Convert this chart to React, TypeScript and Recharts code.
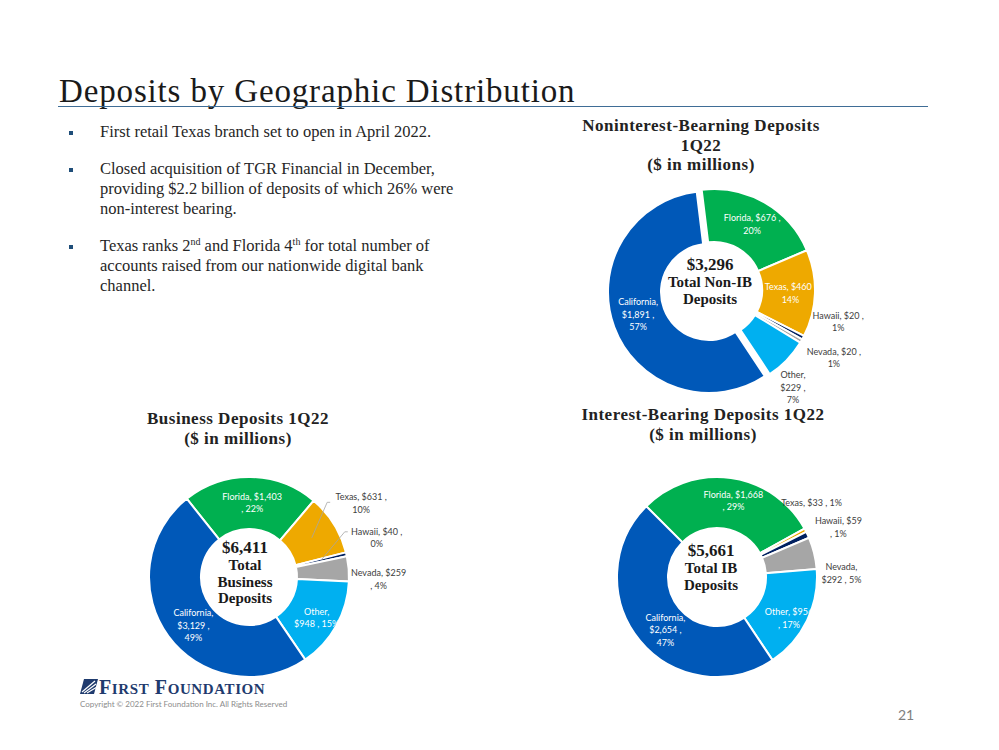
import React from 'react';
import { PieChart, Pie, Cell } from 'recharts';

// slice order is clockwise starting from the Florida slice
const regions = ['Florida', 'Texas', 'Hawaii', 'Nevada', 'Other', 'California'];
const regionColors = ['#00B050', '#EEA900', '#002060', '#A6A6A6', '#00B0F0', '#0058B8'];

const nonIbValues = [676, 460, 20, 20, 229, 1891];
const nonIbPct = ['20%', '14%', '1%', '1%', '7%', '57%'];

const businessValues = [1403, 631, 40, 259, 948, 3129];
const businessPct = ['22%', '10%', '0%', '4%', '15%', '49%'];

const ibValues = [1668, 33, 59, 292, 956, 2654];
const ibPct = ['29%', '1%', '1%', '5%', '17%', '47%'];

const nonIbCenter = ['$3,296', 'Total Non-IB', 'Deposits'];
const businessCenter = ['$6,411', 'Total', 'Business', 'Deposits'];
const ibCenter = ['$5,661', 'Total IB', 'Deposits'];

const bullets = [
  ['First retail Texas branch set to open in April 2022.'],
  [
    'Closed acquisition of TGR Financial in December,',
    'providing $2.2 billion of deposits of which 26% were',
    'non-interest bearing.',
  ],
];

type LabelCfg = {
  out?: boolean;
  nudge: [number, number];
  breaks: number[];
  leader?: [number, number];
};

// label placement (Excel "best fit" look), one entry per region
const nonIbLabels: LabelCfg[] = [
  { nudge: [1, -2], breaks: [2] },
  { nudge: [2, 0], breaks: [2] },
  { out: true, nudge: [14, -28], breaks: [2] },
  { out: true, nudge: [12, 4], breaks: [2] },
  { out: true, nudge: [-11, 10], breaks: [0, 2] },
  { nudge: [-6, -2], breaks: [0, 2] },
];
const businessLabels: LabelCfg[] = [
  { nudge: [2, -1], breaks: [1] },
  { out: true, nudge: [7, -9], breaks: [2], leader: [-31, 0] },
  { out: true, nudge: [7, -12], breaks: [2], leader: [-29, -5] },
  { out: true, nudge: [6, 12], breaks: [1] },
  { nudge: [3, 4], breaks: [0] },
  { nudge: [4, 4], breaks: [0, 2] },
];
const ibLabels: LabelCfg[] = [
  { nudge: [6, -3], breaks: [1] },
  { out: true, nudge: [-15, -17], breaks: [] },
  { out: true, nudge: [9, 2], breaks: [1] },
  { out: true, nudge: [4, 25], breaks: [0] },
  { nudge: [5, 8], breaks: [1] },
  { nudge: [6, 5], breaks: [0, 2] },
];

const RAD = Math.PI / 180;
const labelFont = 'Lato, "Open Sans", sans-serif';
const serif = '"Liberation Serif", "Times New Roman", serif';

const fmt = (v: number) => '$' + v.toLocaleString('en-US');

const makeData = (values: number[], pct: string[]) =>
  regions.map((name, i) => ({ name, value: values[i], pct: pct[i] }));

const makeLabel = (cfgs: LabelCfg[]) => (props: any) => {
  const { cx, cy, midAngle, innerRadius, outerRadius, index, payload } = props;
  const cfg = cfgs[index];
  const r = cfg.out ? outerRadius + 24 : (innerRadius + outerRadius) / 2;
  const ax = cx + r * Math.cos(-midAngle * RAD) + cfg.nudge[0];
  const ay = cy + r * Math.sin(-midAngle * RAD) + cfg.nudge[1];
  const name = payload?.name ?? props.name;
  const value = payload?.value ?? props.value;
  const pct = payload?.pct;
  const tokens = [name + ',', fmt(value), ',', pct];
  const lines: string[] = [];
  let cur: string[] = [];
  tokens.forEach((t, i) => {
    cur.push(t);
    if (cfg.breaks.includes(i)) {
      lines.push(cur.join(' '));
      cur = [];
    }
  });
  if (cur.length) lines.push(cur.join(' '));
  const lh = 12.5;
  const y0 = ay - ((lines.length - 1) * lh) / 2;
  const fill = cfg.out ? '#404040' : '#ffffff';
  let leader = null;
  if (cfg.leader) {
    const rm = (innerRadius + outerRadius) / 2;
    const sx = cx + rm * Math.cos(-midAngle * RAD);
    const sy = cy + rm * Math.sin(-midAngle * RAD);
    const lx = ax + cfg.leader[0];
    const ly = ay + cfg.leader[1];
    leader = (
      <polyline
        points={`${lx},${ly} ${lx - 3},${ly} ${sx},${sy}`}
        fill="none"
        stroke="#A6A6A6"
        strokeWidth={0.8}
      />
    );
  }
  return (
    <g key={`lbl-${index}`}>
      {leader}
      <text
        textAnchor="middle"
        dominantBaseline="central"
        fill={fill}
        fontFamily={labelFont}
        fontSize={9}
      >
        {lines.map((l, i) => (
          <tspan key={i} x={ax} y={y0 + i * lh}>
            {l}
          </tspan>
        ))}
      </text>
    </g>
  );
};

const CenterText = ({ x, y, lines }: { x: number; y: number; lines: string[] }) => (
  <div
    style={{
      position: 'absolute',
      left: x - 60,
      top: y,
      width: 120,
      textAlign: 'center',
      fontFamily: serif,
      fontWeight: 'bold',
      color: '#1a1a1a',
      lineHeight: '16.5px',
      fontSize: 15,
    }}
  >
    {lines.map((l, i) => (
      <div key={i} style={i === 0 ? { fontSize: 17, marginBottom: 0.5 } : undefined}>
        {l}
      </div>
    ))}
  </div>
);

const ChartTitle = ({ x, y, lines }: { x: number; y: number; lines: string[] }) => (
  <div
    style={{
      position: 'absolute',
      left: x - 150,
      top: y,
      width: 300,
      textAlign: 'center',
      fontFamily: serif,
      fontWeight: 'bold',
      fontSize: 17,
      letterSpacing: 0.5,
      lineHeight: '19.5px',
      color: '#222',
    }}
  >
    {lines.map((l, i) => (
      <div key={i}>{l}</div>
    ))}
  </div>
);

const App = () => {
  const nonIb = makeData(nonIbValues, nonIbPct);
  const business = makeData(businessValues, businessPct);
  const ib = makeData(ibValues, ibPct);

  return (
    <div
      style={{
        position: 'absolute',
        left: 0,
        top: 0,
        width: 999,
        height: 750,
        background: '#fff',
        overflow: 'hidden',
      }}
    >
      <PieChart width={999} height={750} style={{ position: 'absolute', left: 0, top: 0 }}>
        <Pie
          data={nonIb}
          dataKey="value"
          nameKey="name"
          cx={709}
          cy={285}
          innerRadius={48}
          outerRadius={101}
          startAngle={97}
          endAngle={-263}
          stroke="#fff"
          strokeWidth={2}
          label={makeLabel(nonIbLabels)}
          labelLine={false}
          isAnimationActive={false}
        >
          {nonIb.map((d, i) => (
            <Cell
              key={d.name}
              fill={regionColors[i]}
              transform={d.name === 'California' ? 'translate(-5,2)' : undefined}
            />
          ))}
        </Pie>
        <Pie
          data={business}
          dataKey="value"
          nameKey="name"
          cx={244}
          cy={572}
          innerRadius={48}
          outerRadius={100}
          startAngle={128.5}
          endAngle={-231.5}
          stroke="#fff"
          strokeWidth={2}
          label={makeLabel(businessLabels)}
          labelLine={false}
          isAnimationActive={false}
        >
          {business.map((d, i) => (
            <Cell key={d.name} fill={regionColors[i]} />
          ))}
        </Pie>
        <Pie
          data={ib}
          dataKey="value"
          nameKey="name"
          cx={712}
          cy={572}
          innerRadius={49}
          outerRadius={100}
          startAngle={135}
          endAngle={-225}
          stroke="#fff"
          strokeWidth={2}
          label={makeLabel(ibLabels)}
          labelLine={false}
          isAnimationActive={false}
        >
          {ib.map((d, i) => (
            <Cell key={d.name} fill={regionColors[i]} />
          ))}
        </Pie>
      </PieChart>

      {/* slide title */}
      <div
        style={{
          position: 'absolute',
          left: 59,
          top: 71,
          fontFamily: serif,
          fontSize: 33,
          letterSpacing: 0.85,
          lineHeight: '40px',
          color: '#1a1a1a',
          whiteSpace: 'nowrap',
        }}
      >
        Deposits by Geographic Distribution
      </div>
      <div
        style={{
          position: 'absolute',
          left: 58,
          top: 105.5,
          width: 870,
          height: 1.5,
          background: '#3F6D96',
        }}
      />

      {/* bullets */}
      <div
        style={{
          position: 'absolute',
          left: 66,
          top: 122,
          fontFamily: serif,
          fontSize: 16.5,
          lineHeight: '20px',
          color: '#262626',
          whiteSpace: 'nowrap',
        }}
      >
        {[...bullets, null].map((b, i) => (
          <div key={i} style={{ position: 'relative', paddingLeft: 34, marginBottom: 17 }}>
            <span
              style={{
                position: 'absolute',
                left: 3,
                top: 9,
                width: 4,
                height: 4,
                background: '#1F4E79',
              }}
            />
            {b ? (
              b.map((l, j) => <div key={j}>{l}</div>)
            ) : (
              <>
                <div>
                  Texas ranks 2<sup style={{ fontSize: 10, lineHeight: 0 }}>nd</sup> and Florida 4
                  <sup style={{ fontSize: 10, lineHeight: 0 }}>th</sup> for total number of
                </div>
                <div>accounts raised from our nationwide digital bank</div>
                <div>channel.</div>
              </>
            )}
          </div>
        ))}
      </div>

      <ChartTitle x={701} y={116} lines={['Noninterest-Bearning Deposits', '1Q22', '($ in millions)']} />
      <ChartTitle x={238} y={409} lines={['Business Deposits 1Q22', '($ in millions)']} />
      <ChartTitle x={703} y={405} lines={['Interest-Bearing Deposits 1Q22', '($ in millions)']} />

      <CenterText x={710} y={257} lines={nonIbCenter} />
      <CenterText x={245} y={540} lines={businessCenter} />
      <CenterText x={711} y={543} lines={ibCenter} />

      {/* footer logo */}
      <svg
        width={18}
        height={15}
        style={{ position: 'absolute', left: 80, top: 679 }}
        viewBox="0 0 18 15"
      >
        <path d="M4 0 H18 L14 15 H0 Z" fill="#1F3B6E" />
        <path d="M2 13 L15 2 M4 14 L16 5 M7 14 L17 8" stroke="#fff" strokeWidth={1.2} />
      </svg>
      <div
        style={{
          position: 'absolute',
          left: 99,
          top: 676,
          fontFamily: serif,
          fontWeight: 'bold',
          color: '#1F3B6E',
          fontSize: 20,
          lineHeight: '22px',
          whiteSpace: 'nowrap',
          letterSpacing: 0.6,
        }}
      >
        F<span style={{ fontSize: 15 }}>IRST</span> F<span style={{ fontSize: 15 }}>OUNDATION</span>
      </div>
      <div
        style={{
          position: 'absolute',
          left: 80,
          top: 699,
          fontFamily: labelFont,
          fontSize: 8,
          color: '#8c8c8c',
          whiteSpace: 'nowrap',
        }}
      >
        Copyright © 2022 First Foundation Inc. All Rights Reserved
      </div>
      <div
        style={{
          position: 'absolute',
          left: 898,
          top: 706,
          fontFamily: labelFont,
          fontSize: 14,
          color: '#7f7f7f',
        }}
      >
        21
      </div>
    </div>
  );
};

export default App;
